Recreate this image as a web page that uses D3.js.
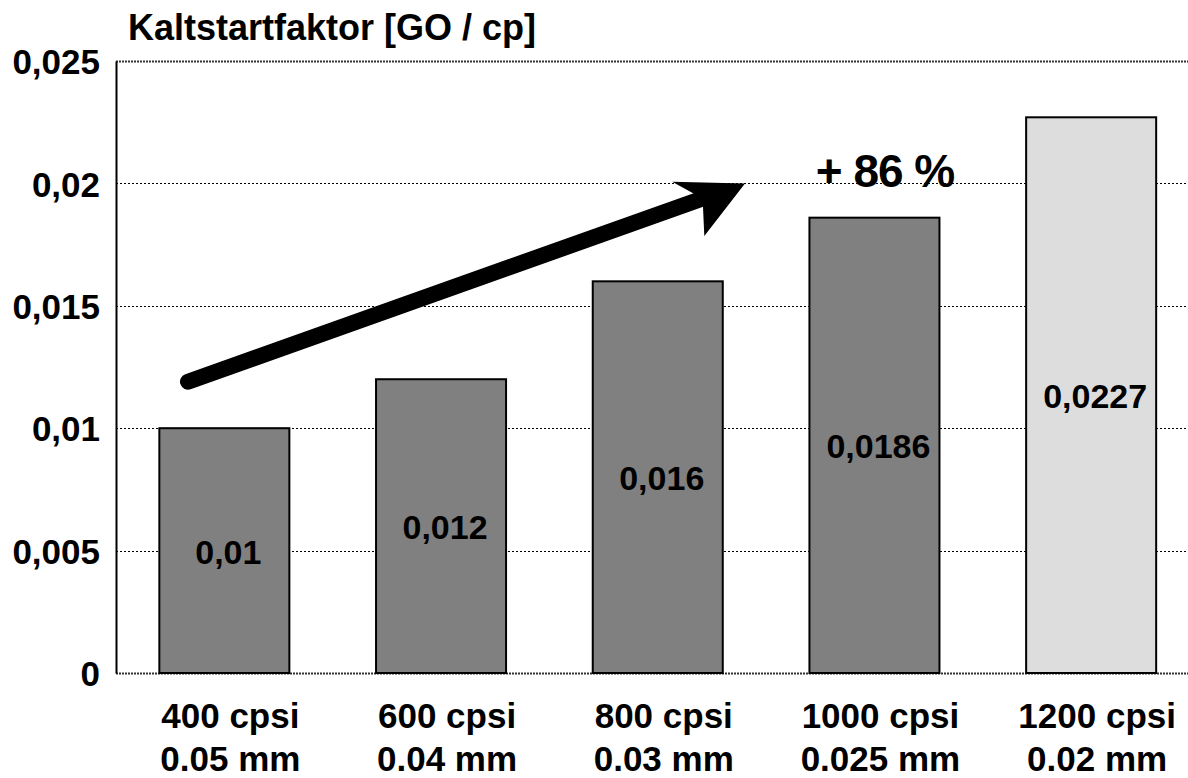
<!DOCTYPE html>
<html>
<head>
<meta charset="utf-8">
<script src="https://cdn.jsdelivr.net/npm/d3@7"></script>
<style>
  html, body { margin: 0; padding: 0; background: #fff; }
  svg text { font-family: Arial, "Liberation Sans", sans-serif; font-weight: bold; fill: #000; }
</style>
</head>
<body>
<svg id="chart" width="1188" height="778"></svg>
<script>
// Cold-start factor per cell density / wall thickness
const cpsiLabels = ["400 cpsi", "600 cpsi", "800 cpsi", "1000 cpsi", "1200 cpsi"];
const wallLabels = ["0.05 mm", "0.04 mm", "0.03 mm", "0.025 mm", "0.02 mm"];
const values = [0.01, 0.012, 0.016, 0.0186, 0.0227];
const valueLabels = ["0,01", "0,012", "0,016", "0,0186", "0,0227"];
const barColors = ["#808080", "#808080", "#808080", "#808080", "#dddddd"];
const yTicks = [0, 0.005, 0.01, 0.015, 0.02, 0.025];
const yTickLabels = ["0", "0,005", "0,01", "0,015", "0,02", "0,025"];
const yTitle = "Kaltstartfaktor [GO / cp]";
const increaseLabel = "+ 86 %";
// trend arrow, from / to in value units
const arrowFrom = 0.0119;
const arrowTo = 0.0200;

const svg = d3.select("#chart");
const plotLeft = 116, plotTop = 61, plotBottom = 673, plotRight = 1199.5;

const x = d3.scaleBand().domain(cpsiLabels).range([plotLeft, plotRight]).paddingInner(0.4).paddingOuter(0.2);
const y = d3.scaleLinear().domain([0, 0.025]).range([plotBottom, plotTop]);

// horizontal dotted grid
svg.append("g").selectAll("line")
  .data(yTicks)
  .join("line")
  .attr("x1", plotLeft).attr("x2", 1188)
  .attr("y1", d => Math.round(y(d)) + 0.5).attr("y2", d => Math.round(y(d)) + 0.5)
  .attr("stroke", d => (d === 0 || d === 0.025) ? "#333" : "#000")
  .attr("stroke-width", d => (d === 0 || d === 0.025) ? 2 : 1)
  .attr("stroke-dasharray", d => (d === 0 || d === 0.025) ? "2,1" : "2,2");

// y axis
const yAxis = d3.axisLeft(y).tickValues(yTicks)
  .tickFormat((d, i) => yTickLabels[i]).tickSize(0).tickPadding(16);
const yg = svg.append("g").attr("transform", `translate(${plotLeft},0)`).call(yAxis);
yg.select(".domain").attr("stroke", "#000").attr("stroke-width", 2);
yg.selectAll("text").style("font-size", "35px").attr("dy", "0.36em").attr("fill", "#000");

// bars
svg.append("g").selectAll("rect")
  .data(values)
  .join("rect")
  .attr("x", (d, i) => x(cpsiLabels[i]))
  .attr("width", x.bandwidth())
  .attr("y", d => y(d))
  .attr("height", d => y(0) - y(d))
  .attr("fill", (d, i) => barColors[i])
  .attr("stroke", "#000")
  .attr("stroke-width", 2);

// value labels centred in the bars
svg.append("g").selectAll("text")
  .data(values)
  .join("text")
  .attr("x", (d, i) => x(cpsiLabels[i]) + x.bandwidth() / 2 + 4)
  .attr("y", d => (y(d) + y(0)) / 2 + 13)
  .attr("text-anchor", "middle")
  .style("font-size", "34px")
  .text((d, i) => valueLabels[i]);

// category labels (two lines)
const xl = svg.append("g").selectAll("text")
  .data(cpsiLabels)
  .join("text")
  .attr("text-anchor", "middle")
  .style("font-size", "35px");
xl.append("tspan")
  .attr("x", d => x(d) + x.bandwidth() / 2 + 6)
  .attr("y", 728)
  .text(d => d);
xl.append("tspan")
  .attr("x", d => x(d) + x.bandwidth() / 2 + 6)
  .attr("y", 771)
  .text((d, i) => wallLabels[i]);

// axis title
svg.append("text")
  .attr("x", 128).attr("y", 40)
  .style("font-size", "36px")
  .text(yTitle);

// trend arrow
const ax0 = 188, ay0 = y(arrowFrom);
const ax1 = 745, ay1 = y(arrowTo);
const ang = Math.atan2(ay1 - ay0, ax1 - ax0);
const ca = Math.cos(ang), sa = Math.sin(ang);
const pt = (along, across) => [ax1 + along * ca - across * sa, ay1 + along * sa + across * ca];
const headLen = 60, headHalf = 30, notch = 45;
svg.append("line")
  .attr("x1", ax0).attr("y1", ay0)
  .attr("x2", pt(-notch, 0)[0]).attr("y2", pt(-notch, 0)[1])
  .attr("stroke", "#000").attr("stroke-width", 16).attr("stroke-linecap", "round");
svg.append("path")
  .attr("d", d3.line()([pt(0, 0), pt(-headLen - 8, -headHalf + 4), pt(-notch, 0), pt(-headLen + 4, headHalf + 6)]) + "Z")
  .attr("fill", "#000");

// increase annotation
svg.append("text")
  .attr("x", 885).attr("y", 187)
  .attr("text-anchor", "middle")
  .style("font-size", "46px")
  .style("letter-spacing", "-1px")
  .text(increaseLabel);
</script>
</body>
</html>
